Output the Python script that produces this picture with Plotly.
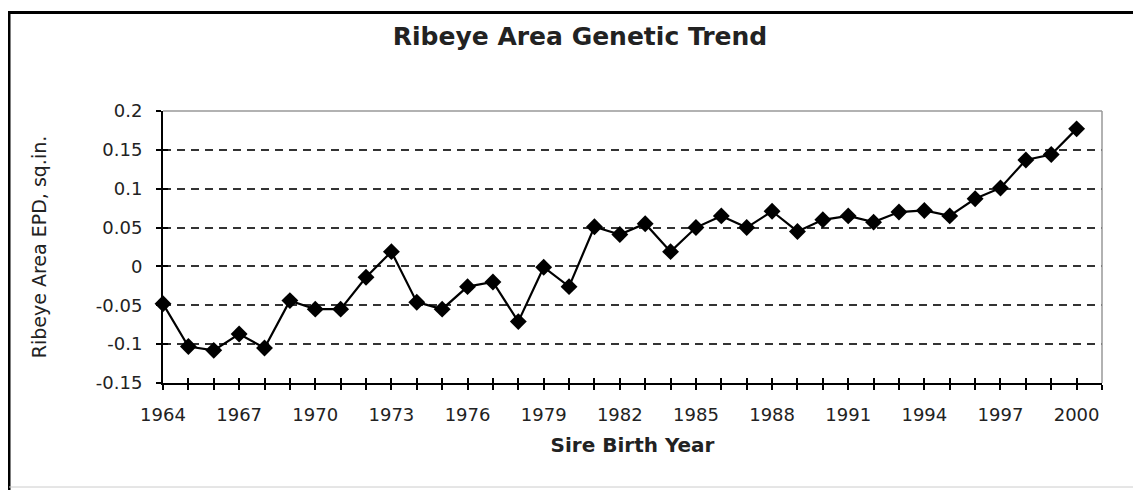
import plotly.graph_objects as go

years = list(range(1964, 2001))
epd = [-0.048, -0.103, -0.108, -0.087, -0.105, -0.044, -0.055, -0.055, -0.014, 0.019,
       -0.046, -0.055, -0.026, -0.020, -0.071, -0.001, -0.026, 0.051, 0.041, 0.055,
       0.019, 0.050, 0.065, 0.050, 0.071, 0.045, 0.060, 0.065, 0.057, 0.070,
       0.072, 0.065, 0.087, 0.101, 0.137, 0.144, 0.177]

x_tick_vals = list(range(1964, 2002))
x_tick_text = [str(y) if (y - 1964) % 3 == 0 and y <= 2000 else "" for y in x_tick_vals]
y_tick_vals = [-0.15, -0.1, -0.05, 0, 0.05, 0.1, 0.15, 0.2]
y_tick_text = ["-0.15", "-0.1", "-0.05", "0", "0.05", "0.1", "0.15", "0.2"]

title_text = "Ribeye Area Genetic Trend"
x_title = "Sire Birth Year"
y_title = "Ribeye Area EPD, sq.in."

OFF = 8  # page body margin
W, H = 1141 - OFF, 490 - OFF
L = 163 - OFF
T = 111 - OFF
R = W - (1102 - OFF)
B = H - (383 - OFF)
pw, ph = W - L - R, H - T - B

def px_x(p):  # page pixel -> paper x
    return (p - OFF - L) / pw

def px_y(p):  # page pixel -> paper y
    return (H - B - (p - OFF)) / ph

fig = go.Figure()
fig.add_trace(go.Scatter(
    x=years, y=epd, mode="lines+markers",
    line=dict(color="black", width=2.2),
    marker=dict(symbol="diamond", size=13, color="black"),
    showlegend=False, cliponaxis=False,
))

font_main = "DejaVu Sans, Liberation Sans, Arial, sans-serif"

fig.update_layout(
    width=W, height=H,
    margin=dict(l=L, r=R, t=T, b=B, pad=0),
    paper_bgcolor="white", plot_bgcolor="white",
    font=dict(family=font_main, color="#222", size=16),
    xaxis=dict(
        range=[1964, 2001], tickmode="array", tickvals=x_tick_vals, ticktext=x_tick_text,
        ticks="outside", ticklen=5, tickwidth=1.5, tickcolor="black",
        showline=True, linecolor="black", linewidth=2, showgrid=False, zeroline=False,
        tickfont=dict(size=18), ticklabelstandoff=9,
        title=dict(text="<b>" + x_title + "</b>", font=dict(size=20), standoff=14),
    ),
    xaxis2=dict(
        range=[1964, 2001], overlaying="x", tickmode="array", tickvals=x_tick_vals,
        ticktext=["" for _ in x_tick_vals], ticks="inside", ticklen=5, tickwidth=1.5,
        tickcolor="black", showline=False, showgrid=False, zeroline=False, side="bottom",
    ),
    yaxis=dict(
        range=[-0.15, 0.2], tickmode="array", tickvals=y_tick_vals, ticktext=y_tick_text,
        ticks="outside", ticklen=5, tickwidth=1.5, tickcolor="black",
        showline=True, linecolor="black", linewidth=2,
        showgrid=True, gridcolor="#333", griddash="8px,6px", gridwidth=2,
        zeroline=False, tickfont=dict(size=18), ticklabelstandoff=10,
        title=dict(text=y_title, font=dict(size=19), standoff=44),
    ),
    yaxis2=dict(
        range=[-0.15, 0.2], overlaying="y", tickmode="array", tickvals=y_tick_vals,
        ticktext=["" for _ in y_tick_vals], ticks="inside", ticklen=5, tickwidth=1.5,
        tickcolor="black", showline=False, showgrid=False, zeroline=False, side="left",
    ),
    title=dict(text="<b>" + title_text + "</b>", font=dict(size=25, color="#222"),
               x=(580 - OFF) / W, xanchor="center", xref="container",
               y=1 - (36 - OFF) / H, yanchor="middle", yref="container"),
    shapes=[
        dict(type="line", xref="paper", yref="paper", x0=0, x1=1, y0=1, y1=1,
             line=dict(color="#999", width=1.5)),
        dict(type="line", xref="paper", yref="paper", x0=1, x1=1, y0=0, y1=1,
             line=dict(color="#999", width=1.5)),
        dict(type="line", xref="paper", yref="paper", x0=px_x(9), x1=px_x(9),
             y0=px_y(12), y1=px_y(495), line=dict(color="black", width=3)),
        dict(type="line", xref="paper", yref="paper", x0=px_x(8), x1=px_x(1150),
             y0=px_y(12.5), y1=px_y(12.5), line=dict(color="black", width=3)),
        dict(type="line", xref="paper", yref="paper", x0=px_x(9), x1=px_x(1150),
             y0=px_y(487), y1=px_y(487), line=dict(color="#ccc", width=1)),
    ],
)
fig.add_trace(go.Scatter(x=[1964], y=[0], xaxis="x2", yaxis="y2", mode="markers",
                         marker=dict(opacity=0), showlegend=False, hoverinfo="skip"))

fig.write_html("out.html")
